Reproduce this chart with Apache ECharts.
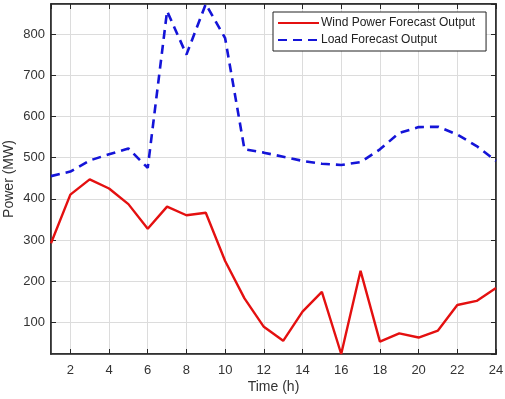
<!DOCTYPE html>
<html>
<head>
<meta charset="utf-8">
<script src="https://cdn.jsdelivr.net/npm/echarts@6/dist/echarts.min.js"></script>
<style>html,body{margin:0;padding:0;background:#fff;}#c{width:505px;height:399px;}</style>
</head>
<body>
<div id="c"></div>
<script>
var hours = [1,2,3,4,5,6,7,8,9,10,11,12,13,14,15,16,17,18,19,20,21,22,23,24];
var windPower = [292,410,447,425,387,327,381,360,366,249,158,89,55,126,174,23,225,53,73,63,80,142,152,183];
var loadForecast = [455,466,493,508,522,475,856,750,873,790,520,512,502,492,485,482,489,520,560,574,575,556,528,492];
var seriesNames = ['Wind Power Forecast Output','Load Forecast Output'];
var yMin = 23, yMax = 873;
var xMin = 1, xMax = 24;

function pairs(xs, ys){ return xs.map(function(x,i){ return [x, ys[i]]; }); }

var font = 'Liberation Sans, Arial, sans-serif';
var chart = echarts.init(document.getElementById('c'), null, {renderer:'canvas'});
var gridLine = {show:true, lineStyle:{color:'#dcdcdc', width:1}};
var axLine = {show:true, onZero:false, lineStyle:{color:'#262626', width:1.5}};
chart.setOption({
  animation:false,
  backgroundColor:'#ffffff',
  grid:{left:51, right:9, top:4, bottom:45, show:true, borderColor:'#262626', borderWidth:1.5,
        containLabel:false, outerBoundsMode:'none'},
  legend:{
    orient:'vertical', left:273, top:12,
    backgroundColor:'#ffffff', borderColor:'#222', borderWidth:1,
    padding:[5,11,5,4], itemGap:5, itemWidth:41, itemHeight:12,
    itemStyle:{opacity:0},
    textStyle:{fontFamily:font, fontSize:12, color:'#222', padding:[0,0,0,-3]},
    data:seriesNames
  },
  xAxis:[{
    type:'value', min:xMin, max:xMax, splitNumber:12,
    name:'Time (h)', nameLocation:'middle', nameGap:26, nameMoveOverlap:false,
    nameTextStyle:{fontFamily:font, fontSize:14, color:'#333'},
    axisLine:axLine,
    axisTick:{show:true, inside:true, length:5, lineStyle:{color:'#262626'}},
    axisLabel:{fontFamily:font, fontSize:13, color:'#333', margin:10, showMinLabel:false,
      formatter:function(v){ return v % 2 === 0 ? String(v) : ''; }},
    splitLine:gridLine
  },{
    type:'value', min:xMin, max:xMax, splitNumber:12, position:'top',
    axisLine:axLine,
    axisTick:{show:true, inside:true, length:5, lineStyle:{color:'#262626'}},
    axisLabel:{show:false}, splitLine:{show:false}
  }],
  yAxis:[{
    type:'value', min:yMin, max:yMax, splitNumber:8,
    name:'Power (MW)', nameLocation:'middle', nameGap:35, nameMoveOverlap:false,
    nameTextStyle:{fontFamily:font, fontSize:14, color:'#333'},
    axisLine:axLine,
    axisTick:{show:true, inside:true, length:5, lineStyle:{color:'#262626'}},
    axisLabel:{fontFamily:font, fontSize:13, color:'#333', margin:6, showMinLabel:false, showMaxLabel:false,
      formatter:function(v){ return v % 100 === 0 ? String(v) : ''; }},
    splitLine:gridLine
  },{
    type:'value', min:yMin, max:yMax, splitNumber:8, position:'right',
    axisLine:axLine,
    axisTick:{show:true, inside:true, length:5, lineStyle:{color:'#262626'}},
    axisLabel:{show:false}, splitLine:{show:false}
  }],
  series:[{
    name:seriesNames[0], type:'line', symbol:'none', data:pairs(hours, windPower),
    lineStyle:{color:'#e41010', width:2.4}, itemStyle:{color:'#e41010'}
  },{
    name:seriesNames[1], type:'line', symbol:'none', data:pairs(hours, loadForecast),
    lineStyle:{color:'#1414d8', width:2.6, type:[9,6]}, itemStyle:{color:'#1414d8'}
  }]
});
</script>
</body>
</html>
